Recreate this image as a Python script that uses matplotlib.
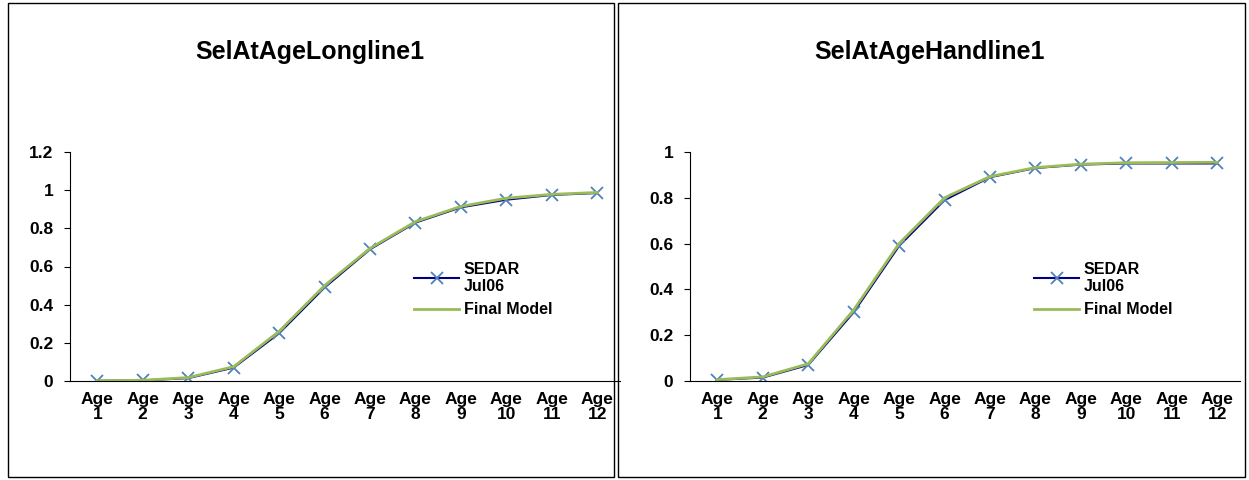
import numpy as np
import matplotlib.pyplot as plt
from matplotlib.patches import Rectangle

plt.rcParams['font.family'] = ['Liberation Sans', 'DejaVu Sans']
plt.rcParams['font.weight'] = 'bold'

ages = ['Age\n%d' % i for i in range(1, 13)]
long_sedar = [0.001, 0.003, 0.015, 0.07, 0.25, 0.49, 0.69, 0.83, 0.91, 0.95, 0.975, 0.985]
long_final = [0.001, 0.004, 0.018, 0.075, 0.26, 0.50, 0.695, 0.835, 0.915, 0.958, 0.978, 0.988]
hand_sedar = [0.005, 0.015, 0.07, 0.30, 0.59, 0.79, 0.89, 0.93, 0.945, 0.95, 0.95, 0.95]
hand_final = [0.006, 0.018, 0.075, 0.31, 0.60, 0.80, 0.893, 0.932, 0.947, 0.953, 0.954, 0.955]

fig = plt.figure(figsize=(12.49, 4.8), dpi=100)
W, H = 1249, 480

# panel frames
for x0, x1 in [(8, 614), (618, 1245)]:
    fig.patches.append(Rectangle((x0 / W, 3 / H), (x1 - x0) / W, 474 / H, transform=fig.transFigure,
                                 fill=False, edgecolor='black', lw=1))

panels = [
    ('SelAtAgeLongline1', long_sedar, long_final, 70, 620, 1.2, [0, 0.2, 0.4, 0.6, 0.8, 1, 1.2], 310),
    ('SelAtAgeHandline1', hand_sedar, hand_final, 690, 1240, 1.0, [0, 0.2, 0.4, 0.6, 0.8, 1], 930),
]
x = np.arange(1, 13)
for title, sedar, final, left, right, ymax, yt, tx in panels:
    ax = fig.add_axes([left / W, 1 - 381 / H, (right - left) / W, 229 / H])
    ax.plot(x, sedar, color='#000080', marker='x', ms=8, mec='#4f81bd', mew=1.3, lw=1.5, label='SEDAR\nJul06')
    ax.plot(x, final, color='#9bbb59', lw=2, label='Final Model')
    ax.set_xlim(0.4, 12.5)
    ax.set_ylim(0, ymax)
    ax.set_yticks(yt)
    ax.set_yticklabels(['%g' % v for v in yt], fontsize=12.5, fontweight='bold')
    ax.set_xticks(x)
    ax.set_xticklabels(ages, fontsize=12.5, fontweight='bold', linespacing=1.0)
    ax.tick_params(axis='x', length=0, pad=8)
    ax.tick_params(axis='y', length=4, direction='out', pad=8)
    for s in ['top', 'right']:
        ax.spines[s].set_visible(False)
    ax.legend(loc='center left', bbox_to_anchor=(0.6, 0.4), frameon=False, fontsize=11.5,
              handlelength=2.8, labelspacing=0.5, handletextpad=0.3)
    fig.text(tx / W, 1 - 52 / H, title, ha='center', va='center', fontsize=18, fontweight='bold')

fig.savefig('out.png', dpi=100)
